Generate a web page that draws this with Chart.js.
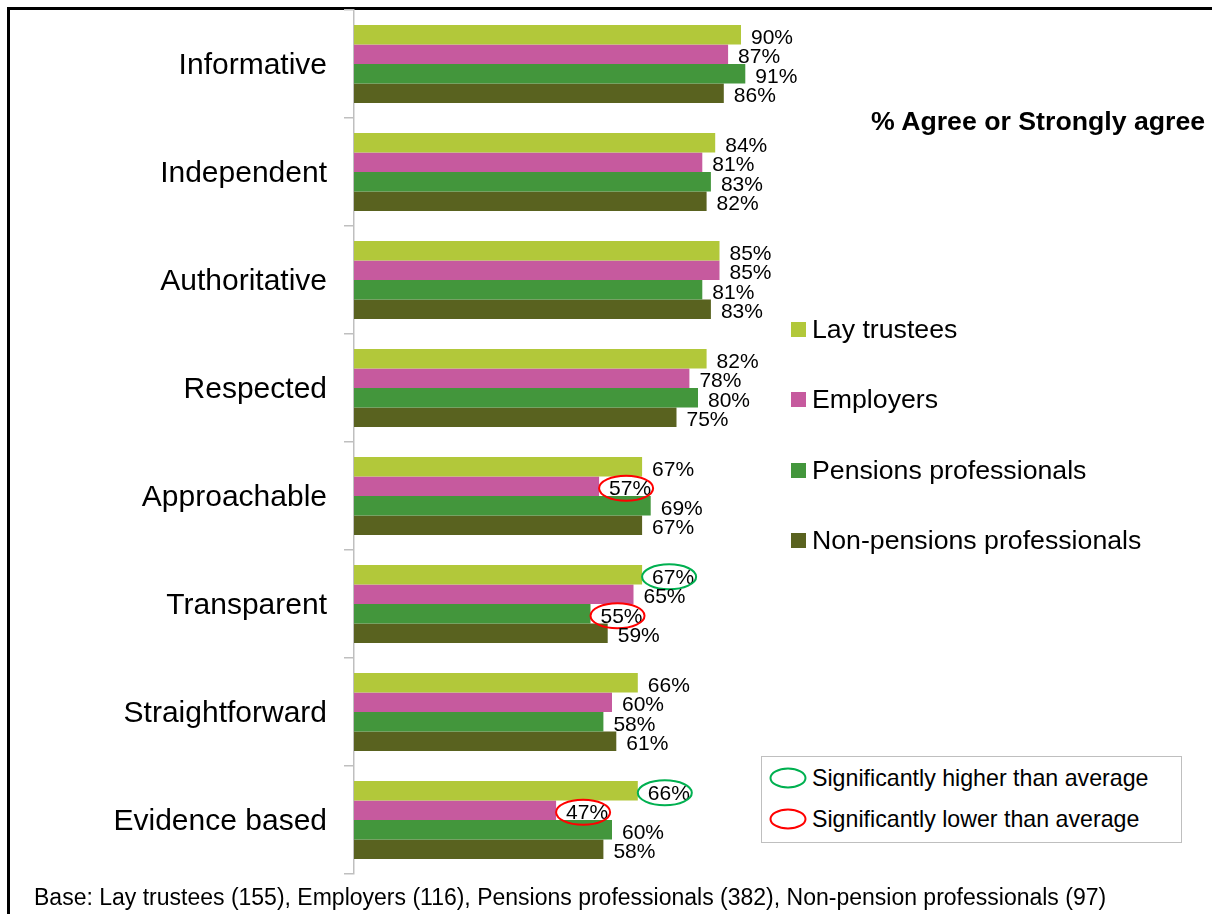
<!DOCTYPE html>
<html>
<head>
<meta charset="utf-8">
<script src="https://cdn.jsdelivr.net/npm/chart.js@4/dist/chart.umd.min.js"></script>
<style>
  html, body { margin: 0; padding: 0; background: #fff; }
  body { width: 1212px; height: 914px; position: relative; overflow: hidden; font-family: 'Liberation Sans', Arial, sans-serif; color: #000; }
  #frame { position: absolute; left: 7px; top: 7px; width: 1400px; height: 1100px; border: 3px solid #000; box-sizing: border-box; }
  #wrap { position: absolute; left: 0; top: 0; width: 1212px; height: 914px; }
  #title { position: absolute; left: 871px; top: 106px; font-size: 26.7px; font-weight: bold; white-space: nowrap; }
  .leg { position: absolute; left: 791px; font-size: 26.7px; white-space: nowrap; display: flex; align-items: center; height: 30px; }
  .leg .sw { width: 15px; height: 15px; margin-right: 6px; }
  #sigbox { position: absolute; left: 761px; top: 756px; width: 421px; height: 87px; border: 1.5px solid #bfbfbf; box-sizing: border-box; background: #fff; }
  .sig { position: absolute; left: 7px; font-size: 23.2px; white-space: nowrap; display: flex; align-items: center; height: 26px; }
  .sig svg { margin-right: 3px; }
  #foot { position: absolute; left: 34px; top: 884px; font-size: 23px; white-space: nowrap; }
</style>
</head>
<body>
<div id="frame"></div>
<div id="wrap"><canvas id="c" width="1212" height="914"></canvas></div>
<div id="title">% Agree or Strongly agree</div>
<div id="legend"></div>
<div id="sigbox">
  <div class="sig" style="top:8px"><svg width="40" height="24"><ellipse cx="19" cy="12" rx="17.5" ry="9.5" fill="none" stroke="#00b050" stroke-width="2"/></svg><span>Significantly higher than average</span></div>
  <div class="sig" style="top:49px"><svg width="40" height="24"><ellipse cx="19" cy="12" rx="17.5" ry="9.5" fill="none" stroke="#ff0000" stroke-width="2"/></svg><span>Significantly lower than average</span></div>
</div>
<div id="foot">Base: Lay trustees (155), Employers (116), Pensions professionals (382), Non-pension professionals (97)</div>
<script>
const categories = ['Informative', 'Independent', 'Authoritative', 'Respected', 'Approachable', 'Transparent', 'Straightforward', 'Evidence based'];
const seriesNames = ['Lay trustees', 'Employers', 'Pensions professionals', 'Non-pensions professionals'];
const seriesColors = ['#b2c83a', '#c65a9e', '#43963c', '#59621f'];
const layTrustees = [90, 84, 85, 82, 67, 67, 66, 66];
const employers = [87, 81, 85, 78, 57, 65, 60, 47];
const pensionsProfessionals = [91, 83, 81, 80, 69, 55, 58, 60];
const nonPensionsProfessionals = [86, 82, 83, 75, 67, 59, 61, 58];
// 1 = significantly higher, -1 = significantly lower, 0 = none
const sigLayTrustees = [0, 0, 0, 0, 0, 1, 0, 1];
const sigEmployers = [0, 0, 0, 0, -1, 0, 0, -1];
const sigPensionsProfessionals = [0, 0, 0, 0, 0, -1, 0, 0];
const sigNonPensionsProfessionals = [0, 0, 0, 0, 0, 0, 0, 0];

const seriesValues = [layTrustees, employers, pensionsProfessionals, nonPensionsProfessionals];
const seriesSig = [sigLayTrustees, sigEmployers, sigPensionsProfessionals, sigNonPensionsProfessionals];
const FONT = "'Liberation Sans', Arial, sans-serif";

// HTML legend built from series arrays
const legendEl = document.getElementById('legend');
seriesNames.forEach((n, i) => {
  const d = document.createElement('div');
  d.className = 'leg';
  d.style.top = (314 + i * 70.5) + 'px';
  d.innerHTML = '<div class="sw" style="background:' + seriesColors[i] + '"></div><span>' + n + '</span>';
  legendEl.appendChild(d);
});

const labelPlugin = {
  id: 'valueLabels',
  afterDatasetsDraw(chart) {
    const ctx = chart.ctx;
    ctx.save();
    ctx.font = '21px ' + FONT;
    ctx.textAlign = 'left';
    ctx.textBaseline = 'middle';
    chart.data.datasets.forEach((ds, di) => {
      const meta = chart.getDatasetMeta(di);
      meta.data.forEach((el, i) => {
        const txt = ds.data[i] + '%';
        const x = el.x + 10;
        const y = el.y + 3;
        ctx.fillStyle = '#000';
        ctx.fillText(txt, x, y);
        const s = seriesSig[di][i];
        if (s !== 0) {
          const w = ctx.measureText(txt).width;
          ctx.beginPath();
          ctx.ellipse(x + w / 2 - 4, y - 1, w / 2 + 6, 12.5, 0, 0, Math.PI * 2);
          ctx.lineWidth = 2;
          ctx.strokeStyle = s > 0 ? '#00b050' : '#ff0000';
          ctx.stroke();
        }
      });
    });
    ctx.restore();
  }
};

new Chart(document.getElementById('c'), {
  type: 'bar',
  data: {
    labels: categories,
    datasets: seriesNames.map((n, i) => ({
      label: n,
      data: seriesValues[i],
      backgroundColor: seriesColors[i],
      borderWidth: 0,
      categoryPercentage: 0.72,
      barPercentage: 1.0
    }))
  },
  options: {
    indexAxis: 'y',
    responsive: false,
    animation: false,
    layout: { padding: { top: 10, bottom: 40, left: 0, right: 428 } },
    plugins: { legend: { display: false }, tooltip: { enabled: false } },
    scales: {
      x: { display: false, min: 0, max: 100 },
      y: {
        afterFit(scale) { scale.width = 354; scale.paddingTop = 0; scale.paddingBottom = 0; },
        grid: { drawOnChartArea: false, drawTicks: true, tickLength: 10, color: '#bfbfbf', lineWidth: 1.5, offset: true },
        border: { display: true, color: '#bfbfbf', width: 1.5 },
        ticks: { color: '#000', font: { family: FONT, size: 30 }, padding: 17, labelOffset: 2 }
      }
    }
  },
  plugins: [labelPlugin]
});
</script>
</body>
</html>
